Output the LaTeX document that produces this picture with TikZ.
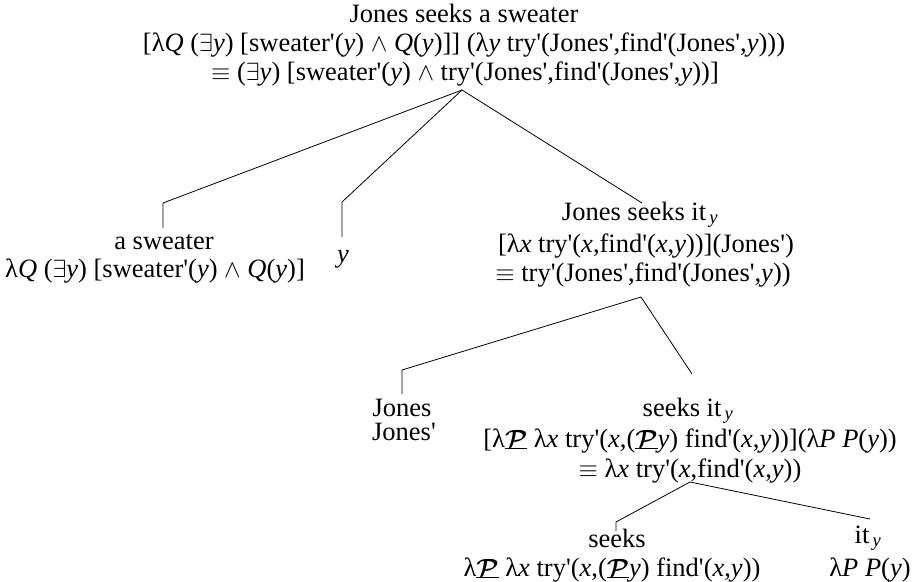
\documentclass[tikz,border=0pt]{standalone}
\usepackage{fontspec}
\setmainfont{Liberation Serif}
\newcommand{\myE}{$\exists$}
\newcommand{\myand}{$\wedge$}
\newcommand{\myeq}{$\equiv$}
\newcommand{\pr}{\textquotesingle}
\newcommand{\myP}{\underline{{\boldmath$\mathcal{P}$}}}
\newcommand{\iv}[1]{\textit{#1}}
\newcommand{\suby}{\textsubscript{\,\iv{y}}}
\tikzset{
  lab/.style={anchor=base, inner sep=0pt, font=\fontsize{26.5}{30}\selectfont},
  branch/.style={line width=0.8pt}
}
\begin{document}
\begin{tikzpicture}[x=1pt,y=-1pt]
\useasboundingbox (0,0) rectangle (915,581);
% root
\node[lab] (r1) at (464,22) {Jones seeks a sweater};
\node[lab] (r2) at (464,51) {[λ\iv{Q} (\myE\iv{y}) [sweater\pr(\iv{y}) \myand\ \iv{Q}(\iv{y})]] (λ\iv{y} try\pr(Jones\pr,find\pr(Jones\pr,\iv{y})))};
\node[lab] (r3) at (465,80) {\myeq\ (\myE\iv{y}) [sweater\pr(\iv{y}) \myand\ try\pr(Jones\pr,find\pr(Jones\pr,\iv{y}))]};
\coordinate (apA) at (462,90);
% a sweater
\node[lab] (s1) at (164,249) {a sweater};
\node[lab] (s2) at (155,277) {λ\iv{Q} (\myE\iv{y}) [sweater\pr(\iv{y}) \myand\ \iv{Q}(\iv{y})]};
\coordinate (cS) at (163,203);
\coordinate (bS) at (163,228);
% y
\node[lab] (yv) at (343,262) {\iv{y}};
\coordinate (cY) at (342,202);
\coordinate (bY) at (342,237);
% Jones seeks it
\node[lab] (j1) at (640,220) {Jones seeks it\suby};
\node[lab] (j2) at (646,252) {[λ\iv{x} try\pr(\iv{x},find\pr(\iv{x},\iv{y}))](Jones\pr)};
\node[lab] (j3) at (643,281) {\myeq\ try\pr(Jones\pr,find\pr(Jones\pr,\iv{y}))};
\coordinate (eJ) at (642,203);
\coordinate (apB) at (641,297);
% Jones
\node[lab] (n1) at (402,416) {Jones};
\node[lab] (n2) at (404,440) {Jones\pr};
\coordinate (cN) at (402,370);
\coordinate (bN) at (402,394);
% seeks it
\node[lab] (k1) at (688,416) {seeks it\suby};
\node[lab] (k2) at (690,447) {[λ\myP\ λ\iv{x} try\pr(\iv{x},(\myP\iv{y}) find\pr(\iv{x},\iv{y}))](λ\iv{P} \iv{P}(\iv{y}))};
\node[lab] (k3) at (690,477) {\myeq\ λ\iv{x} try\pr(\iv{x},find\pr(\iv{x},\iv{y}))};
\coordinate (eK) at (692,374);
\coordinate (apC) at (690,482);
% seeks
\node[lab] (v1) at (617,547) {seeks};
\node[lab] (v2) at (612,576) {λ\myP\ λ\iv{x} try\pr(\iv{x},(\myP\iv{y}) find\pr(\iv{x},\iv{y}))};
\coordinate (cV) at (616,522);
\coordinate (bV) at (616,531);
% it
\node[lab] (t1) at (868,543) {it\suby};
\node[lab] (t2) at (870,576) {λ\iv{P} \iv{P}(\iv{y})};
\coordinate (eT) at (870,519);
% branches
\draw[branch] (apA) -- (cS) -- (bS);
\draw[branch] (apA) -- (cY) -- (bY);
\draw[branch] (apA) -- (eJ);
\draw[branch] (apB) -- (cN) -- (bN);
\draw[branch] (apB) -- (eK);
\draw[branch] (apC) -- (cV) -- (bV);
\draw[branch] (apC) -- (eT);
\end{tikzpicture}
\end{document}
